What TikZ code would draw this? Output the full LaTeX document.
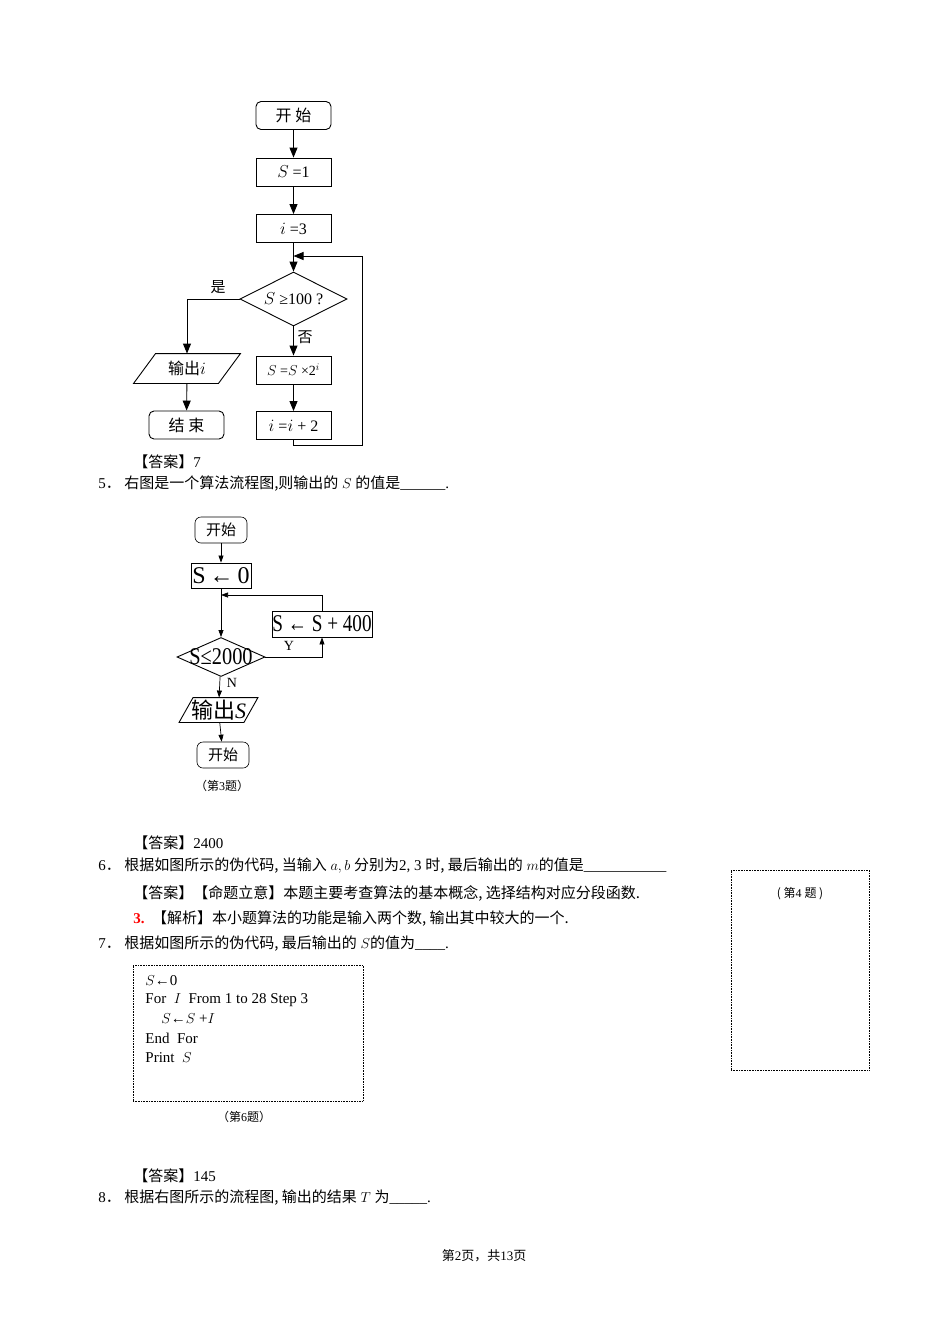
\documentclass[tikz,border=0pt]{standalone}
\usepackage{fontspec}
\setmainfont{Liberation Serif}
\newfontfamily\cjk{Noto Sans CJK SC}
\usetikzlibrary{shapes.geometric,arrows.meta}
\begin{document}
\begin{tikzpicture}[x=1pt,y=-1pt,line width=0.9pt,
  txt/.style={anchor=west,inner sep=0pt,font=\fontsize{15}{15}\selectfont},
  bx/.style={draw,minimum width=75pt,minimum height=28pt,inner sep=0pt,font=\fontsize{16}{16}\selectfont},
  rbx/.style={bx,rounded corners=5pt},
  dia/.style={draw,diamond,aspect=2,inner sep=0pt,font=\fontsize{16}{16}\selectfont},
  ar/.style={-{Triangle[length=10pt,width=8pt]},line width=0.9pt},
  ln/.style={line width=0.9pt}]
\useasboundingbox (0,0) rectangle (950,1344);
% chart 1
\node[rbx] (a1) at (293.5,115.5) {\cjk 开 始};
\node[bx] (a2) at (293.5,172) {$S$ =1};
\node[bx] (a3) at (293.5,228.5) {$i$ =3};
\node[dia,minimum width=107pt,minimum height=54pt] (a4) at (293.5,299) {$S$ ≥100 ?};
\node[bx] (a5) at (293.5,370) {\fontsize{14}{14}\selectfont $S$ =$S$ ×2$^{i}$};
\node[bx] (a6) at (293.5,425.5) {$i$ =$i$ + 2};
\node[minimum width=106pt,minimum height=29pt,inner sep=0pt,font=\cjk\fontsize{16}{16}\selectfont] (a7) at (187,368.5) {输出\rmfamily$i$};
\draw[ln] ([xshift=22pt]a7.north west) -- (a7.north east) -- ([xshift=-22pt]a7.south east) -- (a7.south west) -- cycle;
\node[rbx] (a8) at (186.5,425) {\cjk 结 束};
\draw[ar] (a1)--(a2); \draw[ar] (a2)--(a3); \draw[ar] (a3)--(a4);
\draw[ar] (a4)--(a5); \draw[ar] (a5)--(a6);
\draw[ar] (a4.west) -| (a7.north);
\draw[ar] (a7)--(a8);
\coordinate (l1) at (362,445); \coordinate (l2) at (293.5,256);
\draw[ar] (a6.south) |- (l1) |- (l2);
\node[inner sep=0pt,font=\cjk\fontsize{15}{15}\selectfont] (y1) at (218,287) {是};
\node[inner sep=0pt,font=\cjk\fontsize{15}{15}\selectfont] (n1) at (305,337) {否};
% texts
\node[txt] (t1) at (133,462) {\cjk 【答案】\rmfamily 7};
\node[txt] (t2) at (98,484) {5\cjk ． 右图是一个算法流程图,则输出的\rmfamily\ $S$ \cjk 的值是\rmfamily\_\_\_\_\_\_.};
% chart 2
\tikzset{b2/.style={draw,inner sep=0pt,font=\fontsize{24}{24}\selectfont}}
\node[draw,rounded corners=6pt,minimum width=52pt,minimum height=26pt,inner sep=0pt,line width=0.6pt,font=\cjk\fontsize{15}{15}\selectfont] (b1) at (221,530) {开始};
\node[b2,minimum width=60pt,minimum height=25pt] (b2) at (221,575.5) {S\,←\,0};
\node[b2,minimum width=100pt,minimum height=26pt] (b3) at (322,624) {\scalebox{0.8}[1]{S ← S + 400}};
\node[draw,diamond,aspect=2.25,minimum width=88pt,minimum height=39pt,inner sep=1pt] (b4) at (221,657) {\phantom{x}};
\node[font=\fontsize{24}{24}\selectfont] (b4t) at (221,657) {\scalebox{0.85}[1]{S≤2000}};
\node[minimum width=78pt,minimum height=24pt,inner sep=0pt,font=\cjk\fontsize{22}{22}\selectfont] (b5) at (218.5,710) {输出\rmfamily\itshape S};
\draw[ln] ([xshift=14pt]b5.north west) -- (b5.north east) -- ([xshift=-14pt]b5.south east) -- (b5.south west) -- cycle;
\node[draw,rounded corners=6pt,minimum width=52pt,minimum height=26pt,inner sep=0pt,line width=0.6pt,font=\cjk\fontsize{15}{15}\selectfont] (b6) at (223,755) {开始};
\tikzset{ar2/.style={-{Triangle[length=7pt,width=5pt]},line width=0.7pt}}
\draw[ar2] (b1)--(b2); \draw[ar2] (b2)--(b4); 
\draw[ar2] (b4.east) -| (b3.south);
\coordinate (l3) at (221,595);
\draw[ar2] (b3.north) |- (l3);
\draw[ar2] (b4)--(b5); \draw[ar2] (b5)--(b6);
\node[inner sep=0pt,font=\fontsize{14}{14}\selectfont] (yy) at (289,646) {Y};
\node[inner sep=0pt,font=\fontsize{14}{14}\selectfont] (nn) at (232,683) {N};
\node[inner sep=0pt,font=\cjk\fontsize{12}{12}\selectfont] (c3) at (222,786) {（第\rmfamily 3\cjk 题）};
\node[txt] (t3) at (133,843) {\cjk 【答案】\rmfamily 2400};
\node[txt] (t4) at (98,866) {6\cjk ． 根据如图所示的伪代码, 当输入\rmfamily\ $a,b$ \cjk 分别为\rmfamily 2, 3 \cjk 时, 最后输出的\rmfamily\ $m$\cjk 的值是\rmfamily\_\_\_\_\_\_\_\_\_\_\_};
\node[txt] (t5) at (133,893) {\cjk 【答案】【命题立意】本题主要考查算法的基本概念, 选择结构对应分段函数.};
\node[txt] (t6) at (133,919) {\textcolor{red}{\bfseries 3.}\ \ \cjk 【解析】本小题算法的功能是输入两个数, 输出其中较大的一个.};
\node[txt] (t7) at (98,944) {7\cjk ． 根据如图所示的伪代码, 最后输出的\rmfamily\ $S$\cjk 的值为\rmfamily\_\_\_\_.};
\node[draw,densely dotted,line width=0.6pt,minimum width=138pt,minimum height=200pt,inner sep=0pt] (r4) at (800,970) {};
\node[inner sep=0pt,font=\cjk\fontsize{12}{12}\selectfont] (r4t) at (800,894) {( 第\rmfamily 4 \cjk 题 )};
\node[draw,densely dotted,line width=0.6pt,minimum width=230pt,minimum height=136pt,inner sep=0pt] (cb) at (248,1033) {};
\node[txt] (c1) at (145,981) {$S$←0};
\node[txt] (c2) at (145,1000) {For\ \ $I$\ \ From 1 to 28 Step 3};
\node[txt] (c3b) at (161,1019) {$S$←$S$ +$I$};
\node[txt] (c4) at (145,1038) {End\ \ For};
\node[txt] (c5) at (145,1058) {Print\ \ $S$};
\node[inner sep=0pt,font=\cjk\fontsize{12}{12}\selectfont] (c6) at (244,1117) {（第\rmfamily 6\cjk 题）};
\node[txt] (t8) at (133,1176) {\cjk 【答案】\rmfamily 145};
\node[txt] (t9) at (98,1198) {8\cjk ． 根据右图所示的流程图, 输出的结果\rmfamily\ $T$ \cjk 为\rmfamily\_\_\_\_\_.};
\node[inner sep=0pt,font=\cjk\fontsize{13}{13}\selectfont] (ft) at (484,1256) {第\rmfamily 2\cjk 页，共\rmfamily 13\cjk 页};
\end{tikzpicture}
\end{document}
